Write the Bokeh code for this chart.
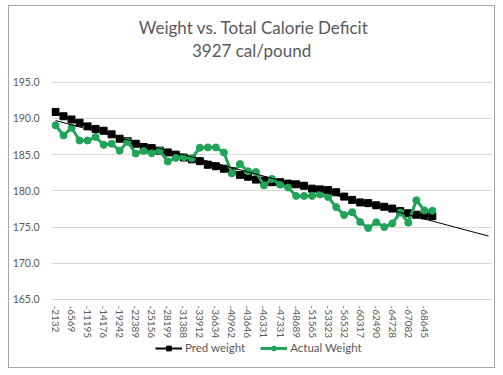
import numpy as np
from bokeh.plotting import figure
from bokeh.models import (FixedTicker, Legend, LegendItem, ColumnDataSource,
                          Range1d, PrintfTickFormatter, Label)
from bokeh.embed import file_html
from bokeh.resources import INLINE

# ---------------- data ----------------
title_line1 = "Weight vs. Total Calorie Deficit"
title_line2 = "3927  cal/pound"

# cumulative calorie deficit for each row (odd rows are hidden on the axis; estimated)
deficit = [-2132, -4923, -6569, -9109, -11195, -13062, -14176, -16550, -19242, -20969,
           -22389, -24689, -25156, -27015, -28199, -29573, -31388, -32596, -33912, -36084,
           -36634, -38642, -40962, -42596, -43646, -45619, -46331, -47247, -47331, -48177,
           -48689, -49572, -51565, -51898, -53323, -53758, -56532, -58642, -60317, -60735,
           -62490, -63060, -64728, -65851, -67082, -68176, -68645, -69106]

pred_weight = [190.9, 190.3, 189.85, 189.4, 188.9, 188.55, 188.3, 187.8, 187.2, 186.85,
               186.5, 186.05, 185.9, 185.55, 185.3, 185.0, 184.6, 184.35, 184.1, 183.6,
               183.4, 183.05, 182.7, 182.2, 181.95, 181.55, 181.43, 181.2, 181.2, 181.0,
               180.9, 180.7, 180.3, 180.2, 180.1, 179.8, 179.2, 178.75, 178.4, 178.3,
               178.0, 177.8, 177.55, 177.2, 176.9, 176.7, 176.6, 176.5]

actual_weight = [189.05, 187.65, 188.7, 186.95, 186.95, 187.45, 186.35, 186.5, 185.55, 186.8,
                 185.15, 185.5, 185.2, 185.55, 184.05, 184.55, 184.65, 184.5, 185.95, 186.0,
                 186.0, 185.3, 182.4, 183.7, 182.7, 182.6, 180.75, 181.65, 180.85, 180.45,
                 179.3, 179.3, 179.3, 179.5, 179.15, 177.75, 176.65, 177.05, 175.7, 174.85,
                 175.65, 175.0, 175.5, 177.0, 175.6, 178.7, 177.3, 177.25]

y_ticks = [165, 170, 175, 180, 185, 190, 195]
n_slots = 55          # category slots on the axis (incl. trendline forecast)
label_step = 2        # Excel shows every 2nd category label

# ---------------- layout / styling ----------------
GREEN = "#21a358"
TXT = "#595959"
GRID = "#d9d9d9"
FONT = "Lato"

W, H = 485, 361              # chart box (inside its 1px border)
ML, MR, MT, MB = 39, 4, 0, 5  # frame covers the whole box except the value-label gutter
PLOT_TOP, PLOT_BOTTOM = 75.3, 291.3   # pixel rows of the 195 and 165 grid lines

frame_w = W - ML - MR
frame_h = H - MT - MB
px_per_val = (PLOT_BOTTOM - PLOT_TOP) / (y_ticks[-1] - y_ticks[0])
y_lo = y_ticks[0] - (frame_h + MT - PLOT_BOTTOM) / px_per_val
y_hi = y_ticks[-1] + (PLOT_TOP - MT) / px_per_val

def px_x(px):          # horizontal pixel inside the frame -> x value
    return -0.5 + px / frame_w * n_slots

def px_y(py):          # pixel row in the box -> y value
    return y_ticks[-1] + (PLOT_TOP - py) / px_per_val

idx = list(range(len(pred_weight)))
src = ColumnDataSource(dict(x=idx, pred=pred_weight, act=actual_weight))

p = figure(width=W, height=H, output_backend="svg", toolbar_location=None,
           x_range=Range1d(-0.5, n_slots - 0.5), y_range=Range1d(y_lo, y_hi),
           min_border_left=ML, min_border_right=MR, min_border_top=MT, min_border_bottom=MB)
p.outline_line_color = None
p.background_fill_color = "white"
p.border_fill_color = "white"
p.styles = {"margin-left": "8px", "margin-top": "5px",
            "border": "1px solid #a6a6a6", "box-sizing": "content-box"}

# category axis drawn on the 165 line
p.xaxis.fixed_location = y_ticks[0]
p.xaxis.ticker = FixedTicker(ticks=list(range(0, len(deficit), label_step)))
p.xaxis.major_label_overrides = {i: str(deficit[i]) for i in range(0, len(deficit), label_step)}
p.xaxis.major_label_orientation = "vertical"
p.xaxis.axis_line_color = GRID
p.xaxis.major_tick_line_color = None
p.xaxis.minor_tick_line_color = None
p.xaxis.major_tick_out = 0
p.xaxis.major_label_standoff = 6
p.xaxis.major_label_text_font = FONT
p.xaxis.major_label_text_font_size = "10px"
p.xaxis.major_label_text_color = TXT

p.yaxis.ticker = FixedTicker(ticks=y_ticks)
p.yaxis.formatter = PrintfTickFormatter(format="%.1f")
p.yaxis.axis_line_color = None
p.yaxis.major_tick_line_color = None
p.yaxis.minor_tick_line_color = None
p.yaxis.major_tick_out = 0
p.yaxis.major_label_standoff = 12
p.yaxis.major_label_text_font = FONT
p.yaxis.major_label_text_font_size = "10.5px"
p.yaxis.major_label_text_color = TXT

p.xgrid.visible = False
p.ygrid.ticker = FixedTicker(ticks=y_ticks)
p.ygrid.grid_line_color = GRID
p.ygrid.grid_line_width = 1

# series
pl = p.line("x", "pred", source=src, color="black", line_width=2)
ps = p.scatter("x", "pred", source=src, marker="square", size=7, color="black")
al = p.line("x", "act", source=src, color=GREEN, line_width=3)
ac = p.scatter("x", "act", source=src, marker="circle", size=7, color=GREEN)

# linear trendline (fit on predicted weight), forecast to the end of the axis
k, b = np.polyfit(idx, pred_weight, 1)
tx = np.array([0, n_slots - 1])
p.line(tx, k * tx + b, color="black", line_width=1)

# legend under the category labels
legend = Legend(items=[LegendItem(label="Pred weight", renderers=[pl, ps]),
                       LegendItem(label="Actual Weight", renderers=[al, ac])],
                orientation="horizontal", location=(104, 10),
                glyph_width=27, glyph_height=12, label_height=12,
                label_standoff=3, spacing=15, padding=0, margin=0,
                border_line_color=None, background_fill_alpha=0,
                label_text_font=FONT, label_text_font_size="11.5px",
                label_text_color=TXT)
p.add_layout(legend)

# two-line centred title
for txt, row in [(title_line1, 21), (title_line2, 44)]:
    p.add_layout(Label(x=px_x(251 - 48.3), y=px_y(row), text=txt,
                       text_align="center", text_baseline="middle",
                       text_font=FONT, text_font_size="17px", text_color=TXT))

open("out.html", "w").write(file_html(p, INLINE))
